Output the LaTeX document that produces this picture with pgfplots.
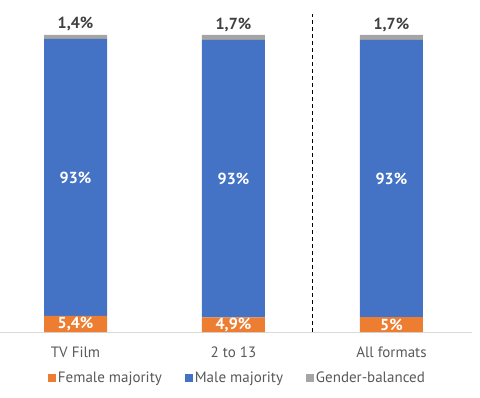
\documentclass[border=0pt]{standalone}
\usepackage{pgfplots}
\pgfplotsset{compat=1.18}
\usepackage{fontspec}
\setmainfont{PT Sans}
\definecolor{cOrange}{HTML}{ED7D31}
\definecolor{cBlue}{HTML}{4472C4}
\definecolor{cGray}{HTML}{A5A5A5}
\definecolor{cText}{HTML}{595959}
\definecolor{cLab}{HTML}{404040}
\definecolor{cAxis}{HTML}{D9D9D9}
\newcommand{\fs}{\fontsize{15pt}{18pt}\selectfont}
\newcommand{\fb}{\fontsize{16pt}{19pt}\selectfont\bfseries}
\begin{document}
\begin{tikzpicture}
\useasboundingbox (0pt,-65pt) rectangle (480pt,332pt);
\begin{axis}[
  at={(0pt,0pt)}, anchor=south west,
  scale only axis, width=472pt, height=318pt,
  ybar stacked, bar width=63pt,
  xmin=-0.478, xmax=2.51, ymin=0, ymax=107,
  axis y line=none, axis x line*=bottom,
  x axis line style={draw=cAxis, line width=0.8pt, -},
  xtick={0,1,2}, xticklabels={TV Film, 2 to 13, All formats},
  major tick length=0pt,
  xticklabel style={font=\fs, text=cText, anchor=base, inner sep=0pt, yshift=-25pt},
  legend columns=3,
  legend style={at={(0.503,-0.145)}, anchor=center, draw=none, font=\fs, text=cText,
    /tikz/every even column/.append style={column sep=21pt}},
  legend image code/.code={\fill[#1] (0pt,-4pt) rectangle (8pt,4pt);},
  point meta=explicit symbolic,
  nodes near coords,
]
\addplot[fill=cOrange, draw=none,
  every node near coord/.append style={anchor=center, text=white, font=\fb}]
  coordinates {(0,5.4) [5,4\%] (1,4.9) [4,9\%] (2,5.0) [5\%]};
\addlegendentry{Female majority}
\addplot[fill=cBlue, draw=none,
  every node near coord/.append style={anchor=center, text=white, font=\fb}]
  coordinates {(0,93.2) [93\%] (1,93.4) [93\%] (2,93.3) [93\%]};
\addlegendentry{Male majority}
\addplot[fill=cGray, draw=none,
  every node near coord/.append style={anchor=south, text=cLab, font=\fb, yshift=2pt}]
  coordinates {(0,1.4) [1,4\%] (1,1.7) [1,7\%] (2,1.7) [1,7\%]};
\addlegendentry{Gender-balanced}
\draw[black, dash pattern=on 4pt off 3pt, line width=0.8pt] (axis cs:1.5,0) -- (axis cs:1.5,107);
\end{axis}
\end{tikzpicture}
\end{document}
